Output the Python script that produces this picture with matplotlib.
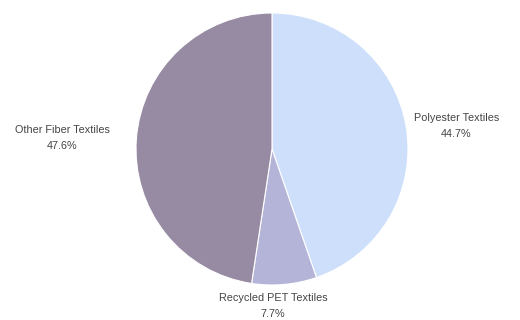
import numpy as np
import matplotlib
matplotlib.use("Agg")
import matplotlib.pyplot as plt

labels = ["Polyester Textiles", "Recycled PET Textiles", "Other Fiber Textiles"]
shares = [44.7, 7.7, 47.6]
colors = ["#cddffb", "#b4b4d8", "#978aa3"]

# label placement (angle in degrees, distance in radii)
label_pos = [(7.1, 1.365), (-89.6, 1.155), (177.0, 1.546)]

plt.rcParams['font.family'] = ['Liberation Sans', 'DejaVu Sans']

fig = plt.figure(figsize=(5.2, 3.2), dpi=100)
ax = fig.add_axes([0, 0, 1, 1])
cx, cy, r = 272, 149, 136

wedges, _ = ax.pie(shares, colors=colors, startangle=90, counterclock=False,
                   radius=1, wedgeprops=dict(edgecolor='white', linewidth=0.8))

# pie() resets the limits, so set them afterwards
ax.set_xlim(-cx / r, (520 - cx) / r)
ax.set_ylim(-(320 - cy) / r, cy / r)
ax.set_aspect('equal')
ax.axis('off')

for lab, val, (a, d) in zip(labels, shares, label_pos):
    ang = np.deg2rad(a)
    ax.text(d * np.cos(ang), d * np.sin(ang), "%s\n%.1f%%" % (lab, val),
            ha='center', va='center', fontsize=7.8, color='#444444',
            linespacing=1.65)

fig.savefig("out.png", dpi=100)
